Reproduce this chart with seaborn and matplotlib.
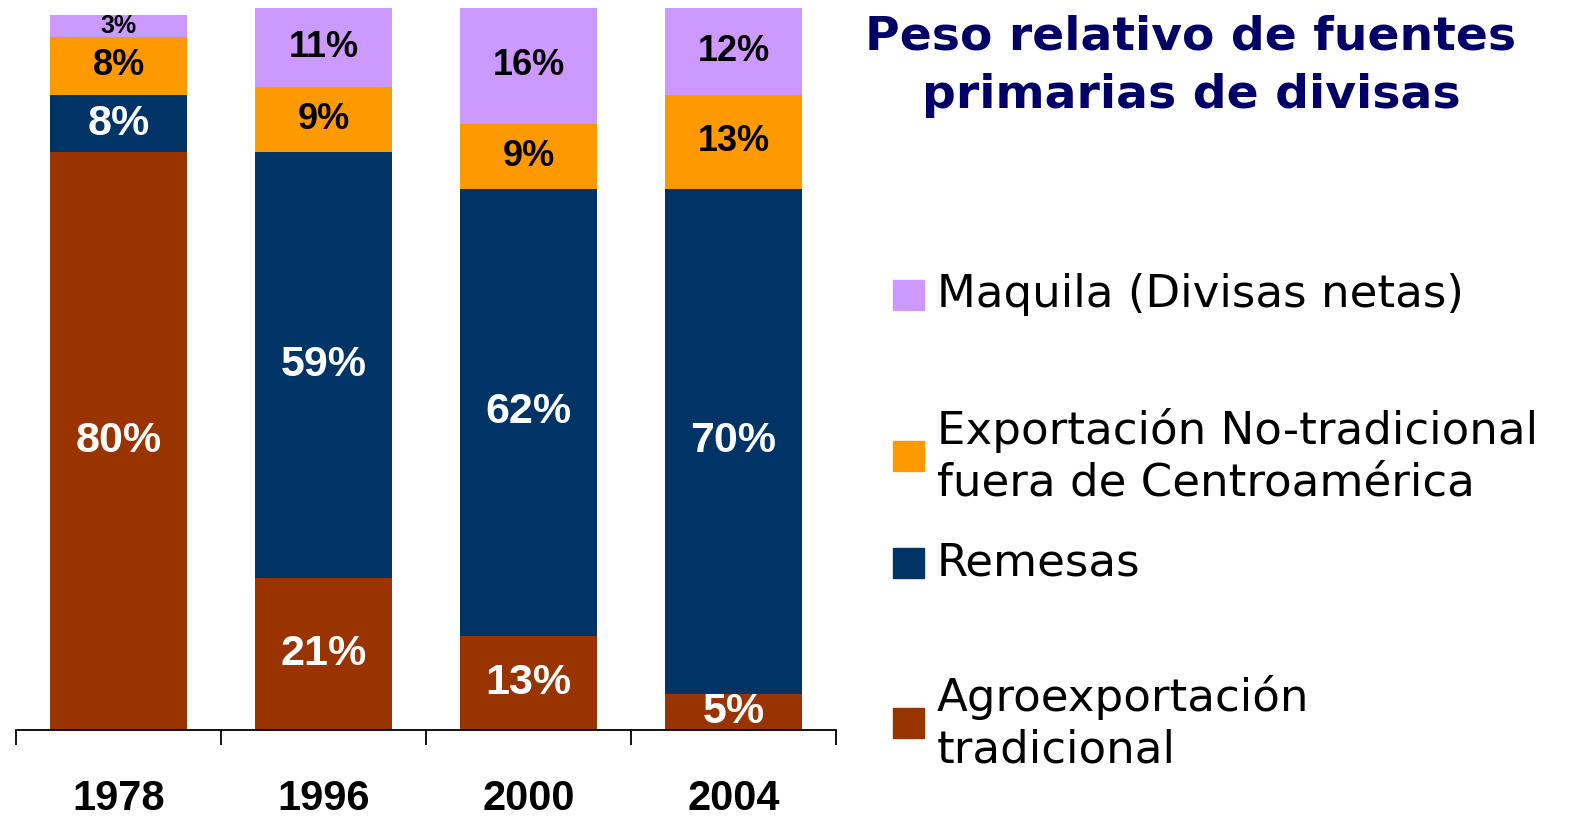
import seaborn as sns
import matplotlib.pyplot as plt
from matplotlib.patches import Rectangle
import numpy as np

# Data (percent of total)
years = ["1978", "1996", "2000", "2004"]
agro = [80, 21, 13, 5]
remesas = [8, 59, 62, 70]
no_trad = [8, 9, 9, 13]
maquila = [3, 11, 16, 12]

series_names = ["Agroexportación\ntradicional", "Remesas",
                "Exportación No-tradicional\nfuera de Centroamérica",
                "Maquila (Divisas netas)"]
colors = ["#993300", "#003366", "#FF9900", "#CC99FF"]
label_colors = ["white", "white", "black", "black"]

sns.set_style("white")
plt.rcParams["font.family"] = ["Liberation Sans", "DejaVu Sans"]

fig = plt.figure(figsize=(15.7, 8.17), dpi=100)
ax = fig.add_axes([16 / 1570, 87 / 817, 820 / 1570, 722 / 817])

series = [agro, remesas, no_trad, maquila]
bottom = np.zeros(len(years))
for vals, c, lc in zip(series, colors, label_colors):
    sns.barplot(x=years, y=vals, bottom=bottom, color=c, saturation=1,
                width=0.67, errorbar=None, ax=ax, linewidth=0)
    for i, v in enumerate(vals):
        if lc == "white":
            fs = 31
        elif v < 5:
            fs = 18
        else:
            fs = 26
        ax.text(i, bottom[i] + v / 2, f"{v}%", ha="center", va="center",
                color=lc, fontsize=fs, fontweight="bold")
    bottom = bottom + np.array(vals)

ax.set_xlim(-0.5, 3.5)
ax.set_ylim(0, 100)
ax.set_yticks([])
ax.set_xticks(range(4))
ax.set_xticklabels(years, fontsize=30, fontweight="bold", color="black")
ax.set_xticks(np.arange(-0.5, 4, 1), minor=True)
ax.tick_params(axis="x", which="major", length=0, pad=35)
ax.tick_params(axis="x", which="minor", length=11, width=1.3, direction="out",
               color="black", bottom=True)
for s in ["top", "left", "right"]:
    ax.spines[s].set_visible(False)
ax.spines["bottom"].set_color("black")
ax.spines["bottom"].set_linewidth(1.3)
ax.set_xlabel("")
ax.set_ylabel("")

# title
fig.text(1191 / 1570, 1 - 66 / 817, "Peso relativo de fuentes\nprimarias de divisas",
         ha="center", va="center", fontsize=34, fontweight="bold",
         color="#000066", family=["DejaVu Sans"], linespacing=1.38)

# legend drawn by hand
legend_rows = [(3, 295), (2, 456), (1, 563), (0, 723)]
for idx, yc in legend_rows:
    fig.patches.append(Rectangle((893 / 1570, 1 - (yc + 15) / 817), 31 / 1570, 30 / 817,
                                 transform=fig.transFigure, color=colors[idx]))
    fig.text(937 / 1570, 1 - yc / 817, series_names[idx], ha="left", va="center",
             fontsize=32.5, color="black", family=["DejaVu Sans"],
             linespacing=1.26)

fig.savefig("out.png", dpi=100)
